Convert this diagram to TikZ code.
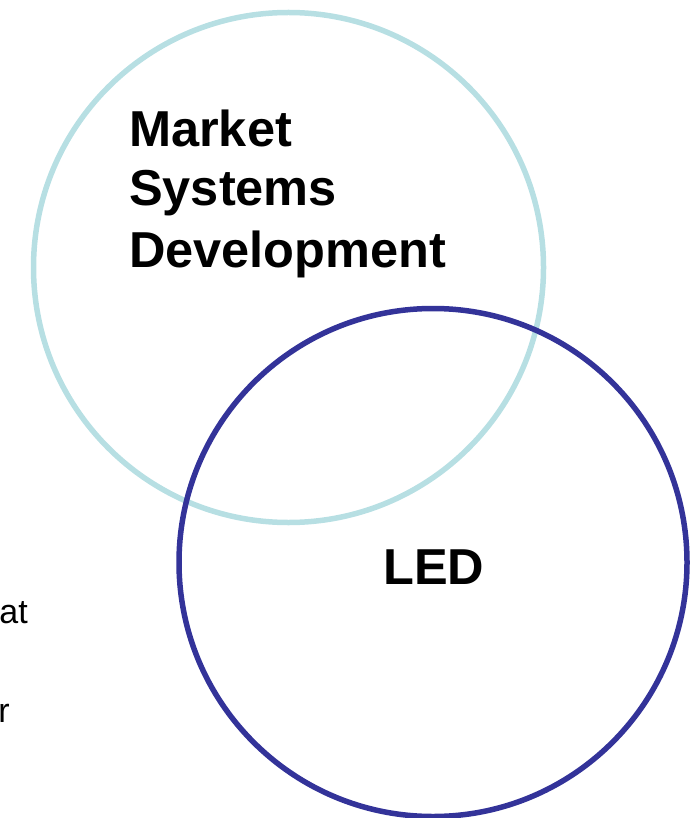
\documentclass[tikz,border=0pt]{standalone}
\usepackage{fontspec}
\setmainfont{Liberation Sans}
\definecolor{lightring}{HTML}{B7DFE3}
\definecolor{darkring}{HTML}{333399}
\begin{document}
\begin{tikzpicture}[x=1pt,y=-1pt,
  ring/.style={line width=5.5pt},
  bigtext/.style={font=\fontsize{50.5}{60}\selectfont\bfseries, inner sep=0pt, anchor=base west},
  sidetext/.style={font=\fontsize{34}{40}\selectfont, inner sep=0pt, anchor=base east}]
\useasboundingbox (0,0) rectangle (693,818);
\draw[ring, lightring] (288.5,267.5) circle (255);
\draw[ring, darkring] (433,562.5) circle (254);
\node[bigtext] (mk1) at (129,147) {Market};
\node[bigtext] (mk2) at (129,206) {Systems};
\node[bigtext] (mk3) at (129,267) {Development};
\node[bigtext] (led) at (383,584) {LED};
\node[sidetext] (frag1) at (28,623) {at};
\node[sidetext] (frag2) at (10,722) {r};
\end{tikzpicture}
\end{document}
